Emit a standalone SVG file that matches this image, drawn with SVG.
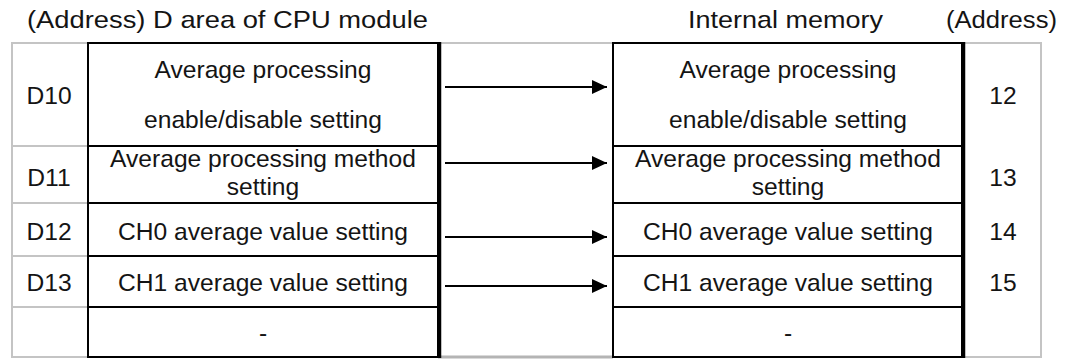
<svg xmlns="http://www.w3.org/2000/svg" width="1077" height="359" viewBox="0 0 1077 359">
  <style>
    text { font-family: "Liberation Sans", Arial, sans-serif; font-size: 24.6px; fill: #141414; }
    .c { text-anchor: middle; }
    .grid { fill: none; stroke: #c4c4c4; stroke-width: 2; }
    .cell { fill: #ffffff; stroke: #000000; stroke-width: 2; }
    .edge { stroke: #000000; stroke-width: 3.5; }
    .arrow { stroke: #000000; stroke-width: 2; fill: none; marker-end: url(#head); }
  </style>
  <defs>
    <marker id="head" markerWidth="16" markerHeight="14" refX="15" refY="7" orient="auto" markerUnits="userSpaceOnUse">
      <path d="M0,0 L15,7 L0,14 Z" fill="#000000"/>
    </marker>
  </defs>
  <rect width="1077" height="359" fill="#ffffff"/>

  <g id="titles">
    <text x="27" y="28" textLength="401" lengthAdjust="spacingAndGlyphs">(Address) D area of CPU module</text>
    <text x="688" y="28" textLength="195" lengthAdjust="spacingAndGlyphs">Internal memory</text>
    <text x="946" y="28" textLength="111" lengthAdjust="spacingAndGlyphs">(Address)</text>
  </g>

  <g id="table-grid">
    <rect class="grid" x="12" y="43" width="1029" height="314"/>
    <line class="grid" x1="12" y1="146" x2="88" y2="146"/>
    <line class="grid" x1="12" y1="203" x2="88" y2="203"/>
    <line class="grid" x1="12" y1="256" x2="88" y2="256"/>
    <line class="grid" x1="12" y1="307" x2="88" y2="307"/>
    <line x1="438" y1="357" x2="613" y2="357" stroke="#b4b4b4" stroke-width="3"/>
  </g>

  <g id="cpu-addresses">
    <text class="c" x="49" y="104">D10</text>
    <text class="c" x="49" y="186">D11</text>
    <text class="c" x="49" y="240">D12</text>
    <text class="c" x="49" y="291">D13</text>
  </g>

  <g id="cpu-d10">
    <rect class="cell" x="88" y="43" width="350" height="103"/>
    <text class="c" x="263" y="78">Average processing</text>
    <text class="c" x="263" y="128">enable/disable setting</text>
  </g>
  <g id="cpu-d11">
    <rect class="cell" x="88" y="146" width="350" height="57"/>
    <text class="c" x="263" y="167">Average processing method</text>
    <text class="c" x="263" y="195">setting</text>
  </g>
  <g id="cpu-d12">
    <rect class="cell" x="88" y="203" width="350" height="53"/>
    <text class="c" x="263" y="240">CH0 average value setting</text>
  </g>
  <g id="cpu-d13">
    <rect class="cell" x="88" y="256" width="350" height="51"/>
    <text class="c" x="263" y="291">CH1 average value setting</text>
  </g>
  <g id="cpu-empty">
    <rect class="cell" x="88" y="307" width="350" height="50"/>
    <text class="c" x="263" y="341">-</text>
  </g>
  <line class="edge" x1="439.5" y1="42" x2="439.5" y2="358"/>

  <g id="mem-12">
    <rect class="cell" x="613" y="43" width="349" height="103"/>
    <text class="c" x="788" y="78">Average processing</text>
    <text class="c" x="788" y="128">enable/disable setting</text>
  </g>
  <g id="mem-13">
    <rect class="cell" x="613" y="146" width="349" height="57"/>
    <text class="c" x="788" y="167">Average processing method</text>
    <text class="c" x="788" y="195">setting</text>
  </g>
  <g id="mem-14">
    <rect class="cell" x="613" y="203" width="349" height="53"/>
    <text class="c" x="788" y="240">CH0 average value setting</text>
  </g>
  <g id="mem-15">
    <rect class="cell" x="613" y="256" width="349" height="51"/>
    <text class="c" x="788" y="291">CH1 average value setting</text>
  </g>
  <g id="mem-empty">
    <rect class="cell" x="613" y="307" width="349" height="50"/>
    <text class="c" x="788" y="341">-</text>
  </g>
  <line class="edge" x1="963.5" y1="42" x2="963.5" y2="358"/>

  <g id="mem-addresses">
    <text class="c" x="1003" y="104">12</text>
    <text class="c" x="1003" y="186">13</text>
    <text class="c" x="1003" y="240">14</text>
    <text class="c" x="1003" y="291">15</text>
  </g>

  <g id="connectors">
    <line class="arrow" x1="445" y1="87" x2="607" y2="87"/>
    <line class="arrow" x1="445" y1="163" x2="607" y2="163"/>
    <line class="arrow" x1="445" y1="237" x2="607" y2="237"/>
    <line class="arrow" x1="445" y1="286" x2="607" y2="286"/>
  </g>
</svg>
